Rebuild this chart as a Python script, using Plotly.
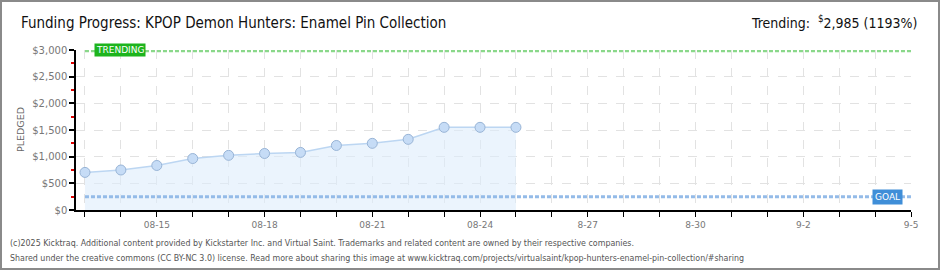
import plotly.graph_objects as go

# ---- data ----
dates = ["2025-08-13", "2025-08-14", "2025-08-15", "2025-08-16", "2025-08-17",
         "2025-08-18", "2025-08-19", "2025-08-20", "2025-08-21", "2025-08-22",
         "2025-08-23", "2025-08-24", "2025-08-25"]
pledged = [705, 750, 835, 965, 1025, 1060, 1080, 1210, 1250, 1325, 1550, 1550, 1550]
goal = 250
trending = 2985
tick_dates = ["2025-08-15", "2025-08-18", "2025-08-21", "2025-08-24",
              "2025-08-27", "2025-08-30", "2025-09-02", "2025-09-05"]
tick_labels = ["08-15", "08-18", "08-21", "08-24", "8-27", "8-30", "9-2", "9-5"]
y_ticks = [0, 500, 1000, 1500, 2000, 2500, 3000]
y_labels = ["$0", "$500", "$1,000", "$1,500", "$2,000", "$2,500", "$3,000"]
range_start = "2025-08-12 18:00"
range_end = "2025-09-05"
line_start = "2025-08-13"

W, H = 940, 270
L, R, T, B = 76, 29, 50, 60
PW, PH = W - L - R, H - T - B
NARROW = "DejaVu Sans Condensed, Liberation Sans, sans-serif"


def px(x):
    return (x - L) / PW


def py(y):
    return (H - B - y) / PH


fig = go.Figure()

fig.add_trace(go.Scatter(
    x=dates, y=pledged, mode="lines+markers",
    line=dict(color="#bcd6f2", width=1.5),
    fill="tozeroy", fillcolor="rgba(222,236,251,0.6)",
    marker=dict(size=10, color="#c6dcf6", line=dict(color="#98b4d6", width=1)),
    hoverinfo="skip", showlegend=False,
))

# goal and trending lines
fig.add_trace(go.Scatter(
    x=[line_start, range_end], y=[goal, goal], mode="lines",
    line=dict(color="#94bbe8", width=3, dash="4px,2px"),
    hoverinfo="skip", showlegend=False,
))
fig.add_trace(go.Scatter(
    x=[line_start, range_end], y=[trending, trending], mode="lines",
    line=dict(color="#8ad88a", width=3, dash="4px,2px"),
    hoverinfo="skip", showlegend=False,
))

annotations = [
    dict(text="Funding Progress: KPOP Demon Hunters: Enamel Pin Collection",
         x=px(19), y=py(23), xref="paper", yref="paper", xanchor="left", yanchor="middle",
         showarrow=False, font=dict(family=NARROW, size=15, color="#111")),
    dict(text="Trending:  <sup>$</sup>2,985 (1193%)",
         x=px(919), y=py(22), xref="paper", yref="paper", xanchor="right", yanchor="middle",
         showarrow=False, font=dict(family=NARROW, size=14, color="#111")),
    dict(text="PLEDGED", textangle=-90,
         x=px(20), y=py(130), xref="paper", yref="paper", xanchor="center", yanchor="middle",
         showarrow=False, font=dict(family="DejaVu Sans", size=9.5, color="#666")),
    dict(text="TRENDING",
         x=px(120), y=py(50), xref="paper", yref="paper", xanchor="center", yanchor="middle",
         showarrow=False, bgcolor="#1db41d", borderpad=1,
         font=dict(family="DejaVu Sans", size=9, color="#fff")),
    dict(text="GOAL",
         x=px(887), y=py(197), xref="paper", yref="paper", xanchor="center", yanchor="middle",
         showarrow=False, bgcolor="#3f8ed8", borderpad=2,
         font=dict(family="DejaVu Sans", size=9, color="#fff")),
    dict(text="(c)2025 Kicktraq. Additional content provided by Kickstarter Inc. and Virtual Saint. Trademarks and related content are owned by their respective companies.",
         x=px(8), y=py(243), xref="paper", yref="paper", xanchor="left", yanchor="middle",
         showarrow=False, font=dict(family=NARROW, size=8.8, color="#555")),
    dict(text="Shared under the creative commons (CC BY-NC 3.0) license. Read more about sharing this image at www.kicktraq.com/projects/virtualsaint/kpop-hunters-enamel-pin-collection/#sharing",
         x=px(8), y=py(258), xref="paper", yref="paper", xanchor="left", yanchor="middle",
         showarrow=False, font=dict(family=NARROW, size=8.8, color="#555")),
]

shapes = [
    dict(type="rect", xref="paper", yref="paper",
         x0=px(1), x1=px(W - 1), y0=py(H - 1), y1=py(1),
         line=dict(color="#8a8a8a", width=2), fillcolor="rgba(0,0,0,0)", layer="above"),
]

fig.update_layout(
    width=W, height=H,
    margin=dict(l=L, r=R, t=T, b=B),
    paper_bgcolor="white", plot_bgcolor="white",
    annotations=annotations, shapes=shapes,
    xaxis=dict(
        type="date", range=[range_start, range_end],
        tickvals=tick_dates, ticktext=tick_labels,
        ticks="outside", ticklen=5, tickcolor="#000", tickwidth=1,
        showline=True, linecolor="#000", linewidth=1.5,
        showgrid=True, gridcolor="#e2e2e2", griddash="dash", gridwidth=1,
        tickfont=dict(family="DejaVu Sans", size=9, color="#777"),
        minor=dict(dtick=86400000, tick0="2025-08-13", ticks="outside", ticklen=5,
                   tickcolor="#000", showgrid=True, gridcolor="#e2e2e2", griddash="dash"),
        zeroline=False, fixedrange=True,
    ),
    yaxis=dict(
        range=[0, 3000], tickvals=y_ticks, ticktext=y_labels,
        ticks="outside", ticklen=5, tickcolor="#000", tickwidth=1.5,
        showline=True, linecolor="#000", linewidth=1.5,
        showgrid=True, gridcolor="#e2e2e2", griddash="dash", gridwidth=1,
        tickfont=dict(family="DejaVu Sans", size=10, color="#777"),
        minor=dict(dtick=250, ticks="outside", ticklen=3, tickcolor="#e00000", showgrid=False),
        zeroline=False, fixedrange=True,
    ),
)

fig.write_html("out.html")
